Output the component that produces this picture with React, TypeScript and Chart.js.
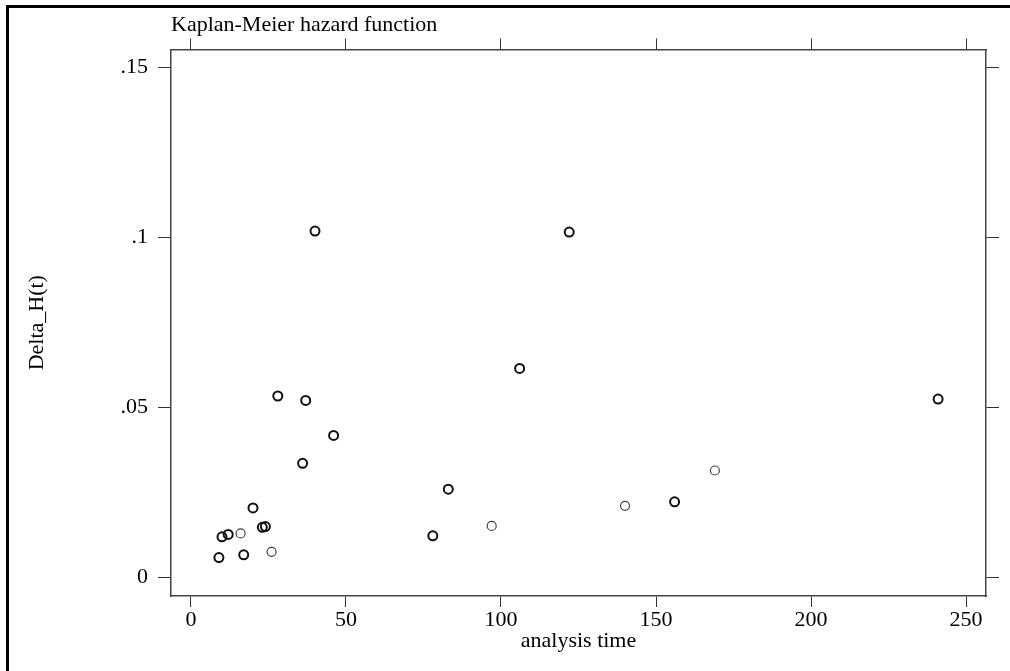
import React, { useEffect, useRef } from "react";
import { Chart, registerables } from "chart.js";

Chart.register(...registerables);

// Data (analysis time, Delta_H(t))
const darkTimes = [9, 17, 10, 12, 23, 24, 20, 36, 46, 28, 37, 40, 122, 106, 83, 78, 156, 241];
const darkValues = [0.0059, 0.0067, 0.012, 0.0127, 0.0148, 0.015, 0.0205, 0.0336, 0.0418, 0.0534, 0.0521, 0.1019, 0.1016, 0.0615, 0.026, 0.0123, 0.0223, 0.0525];
const lightTimes = [26, 16, 97, 140, 169];
const lightValues = [0.0076, 0.013, 0.0152, 0.0211, 0.0315];

const xTicks = [0, 50, 100, 150, 200, 250];
const xTickLabels = ["0", "50", "100", "150", "200", "250"];
const yTicks = [0, 0.05, 0.1, 0.15];
const yTickLabels = ["0", ".05", ".1", ".15"];

const titleText = "Kaplan-Meier hazard function";
const xTitle = "analysis time";
const yTitle = "Delta_H(t)";

const FONT = "'Liberation Serif', 'Times New Roman', serif";

export default function App() {
  const ref = useRef<HTMLCanvasElement | null>(null);

  useEffect(() => {
    if (!ref.current) return;
    const toPts = (xs: number[], ys: number[]) => xs.map((x, i) => ({ x, y: ys[i] }));
    const xRange = { min: -6.45, max: 256.45 };
    const yRange = { min: -0.0054, max: 0.1553 };
    const frameColor = "#444";
    const tickColor = "#333";
    const setXTicks = (s: any) => {
      s.ticks = xTicks.map((v) => ({ value: v }));
    };
    const setYTicks = (s: any) => {
      s.ticks = yTicks.map((v) => ({ value: v }));
    };

    const chart = new Chart(ref.current, {
      type: "scatter",
      data: {
        datasets: [
          {
            label: "dark",
            data: toPts(darkTimes, darkValues),
            pointStyle: "circle",
            pointRadius: 4.5,
            pointBorderWidth: 2,
            borderColor: "#111",
            backgroundColor: "rgba(0,0,0,0)",
            pointHoverRadius: 4.5,
          },
          {
            label: "light",
            data: toPts(lightTimes, lightValues),
            pointStyle: "circle",
            pointRadius: 4.5,
            pointBorderWidth: 1.2,
            borderColor: "#444",
            backgroundColor: "rgba(0,0,0,0)",
            pointHoverRadius: 4.5,
          },
        ],
      },
      options: {
        responsive: false,
        animation: false,
        events: [],
        layout: { padding: 0 },
        plugins: {
          legend: { display: false },
          tooltip: { enabled: false },
          title: {
            display: true,
            text: titleText,
            align: "start",
            fullSize: false,
            color: "#000",
            font: { family: FONT, size: 22, weight: "normal", lineHeight: 1.2 },
            padding: { top: 12, bottom: 0 },
          },
        },
        scales: {
          x: {
            type: "linear",
            position: "bottom",
            ...xRange,
            afterBuildTicks: setXTicks,
            afterFit: (s: any) => {
              s.height = 75;
            },
            ticks: {
              color: "#000",
              padding: 0,
              maxRotation: 0,
              font: { family: FONT, size: 22, lineHeight: 1.2 },
              callback: (v: any) => xTickLabels[xTicks.indexOf(Number(v))] ?? "",
            },
            grid: { display: true, drawOnChartArea: false, drawTicks: true, tickLength: 11, tickColor, tickWidth: 1 },
            border: { display: true, color: frameColor, width: 1.5 },
            title: {
              display: true,
              text: xTitle,
              color: "#000",
              font: { family: FONT, size: 22, lineHeight: 1.2 },
              padding: { top: 0, bottom: 17 },
            },
          },
          x2: {
            type: "linear",
            axis: "x",
            position: "top",
            ...xRange,
            afterBuildTicks: setXTicks,
            afterFit: (s: any) => {
              s.height = 11;
            },
            ticks: { display: false },
            grid: { display: true, drawOnChartArea: false, drawTicks: true, tickLength: 11, tickColor, tickWidth: 1 },
            border: { display: true, color: frameColor, width: 1.5 },
          },
          y: {
            type: "linear",
            position: "left",
            ...yRange,
            afterBuildTicks: setYTicks,
            afterFit: (s: any) => {
              s.width = 171;
            },
            ticks: {
              color: "#000",
              padding: 10,
              font: { family: FONT, size: 22, lineHeight: 1.2 },
              callback: (v: any) => {
                const i = yTicks.findIndex((t) => Math.abs(t - Number(v)) < 1e-9);
                return i >= 0 ? yTickLabels[i] : "";
              },
            },
            grid: { display: true, drawOnChartArea: false, drawTicks: true, tickLength: 13, tickColor, tickWidth: 1 },
            border: { display: true, color: frameColor, width: 1.5 },
            title: {
              display: true,
              text: yTitle,
              color: "#000",
              font: { family: FONT, size: 22, lineHeight: 1.2 },
              padding: { top: 24, bottom: 0 },
            },
          },
          y2: {
            type: "linear",
            axis: "y",
            position: "right",
            ...yRange,
            afterBuildTicks: setYTicks,
            afterFit: (s: any) => {
              s.width = 24;
            },
            ticks: { display: false },
            grid: { display: true, drawOnChartArea: false, drawTicks: true, tickLength: 13, tickColor, tickWidth: 1 },
            border: { display: true, color: frameColor, width: 1.5 },
          },
        },
      },
    });
    return () => chart.destroy();
  }, []);

  return (
    <div style={{ position: "fixed", left: 0, top: 0, width: 1010, height: 671, background: "#fff" }}>
      <canvas ref={ref} width={1010} height={671} style={{ display: "block", width: 1010, height: 671 }} />
      <div
        style={{
          position: "absolute",
          left: 6,
          top: 5,
          right: 0,
          bottom: 0,
          borderLeft: "3px solid #000",
          borderTop: "3px solid #000",
          pointerEvents: "none",
        }}
      />
    </div>
  );
}
